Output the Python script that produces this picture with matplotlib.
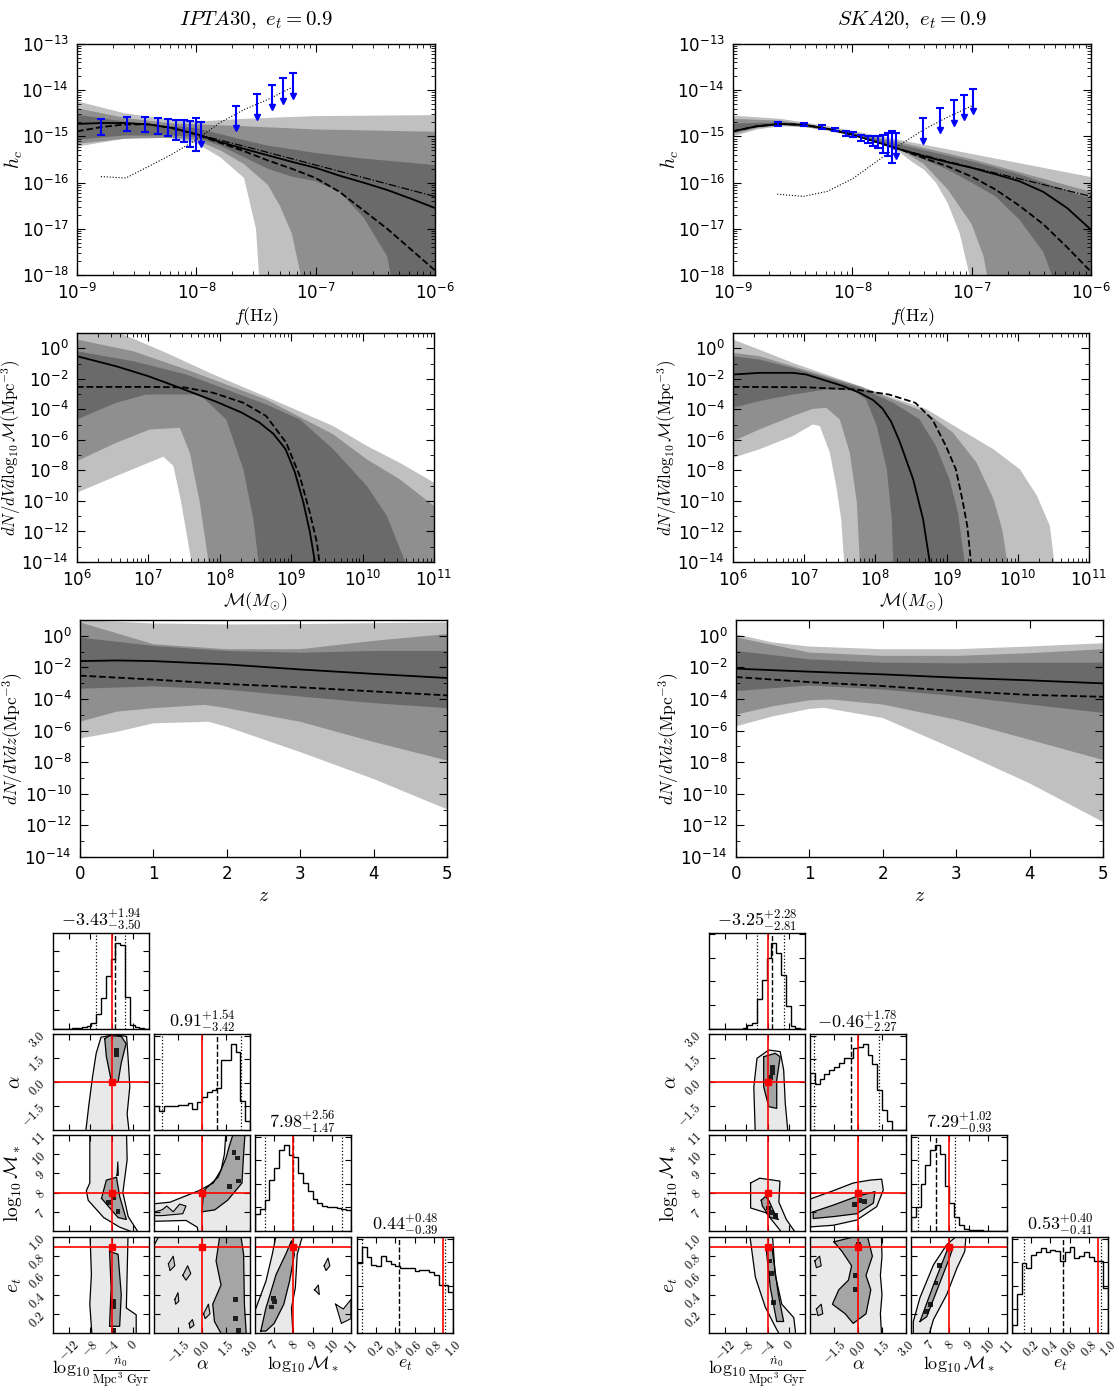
import numpy as np
import matplotlib
matplotlib.use('Agg')
import matplotlib.pyplot as plt
from matplotlib.patches import Rectangle
from matplotlib.ticker import FixedLocator, FuncFormatter, NullFormatter, LogLocator, MaxNLocator

plt.rcParams['mathtext.fontset'] = 'cm'
plt.rcParams['xtick.direction'] = 'in'
plt.rcParams['ytick.direction'] = 'in'
plt.rcParams['xtick.top'] = True
plt.rcParams['ytick.right'] = True
plt.rcParams['axes.linewidth'] = 1.0

LIGHT, MED, DARK = '#c0c0c0', '#8f8f8f', '#6a6a6a'

# ---------------- characteristic strain, log10 values ----------------
# IPTA30
ipta_hc_light_up = ([-9.0, -8.6, -8.2, -8.0, -7.6, -7.0, -6.0], [-14.24, -14.5, -14.64, -14.68, -14.62, -14.56, -14.54])
ipta_hc_light_lo = ([-9.0, -8.6, -8.3, -8.0, -7.8, -7.6, -7.5, -7.45, -6.0], [-15.22, -15.05, -15.0, -15.15, -15.45, -15.9, -17.0, -19.0, -19.0])
ipta_hc_med_up = ([-9.0, -8.6, -8.2, -8.0, -7.6, -7.0, -6.0], [-14.39, -14.6, -14.72, -14.74, -14.78, -14.85, -14.9])
ipta_hc_med_lo = ([-9.0, -8.6, -8.2, -8.0, -7.8, -7.6, -7.4, -7.3, -7.2, -7.1, -7.05, -6.0], [-15.16, -15.05, -15.03, -15.08, -15.3, -15.6, -16.05, -16.5, -17.1, -18.3, -19.0, -19.0])
ipta_hc_dark_up = ([-9.0, -8.6, -8.2, -8.0, -7.8, -7.6, -7.4, -7.0, -6.6, -6.0], [-14.53, -14.68, -14.78, -14.82, -14.95, -15.08, -15.2, -15.36, -15.48, -15.62])
ipta_hc_dark_lo = ([-9.0, -8.6, -8.2, -8.0, -7.8, -7.6, -7.4, -7.2, -7.0, -6.8, -6.6, -6.4, -6.3, -6.0], [-15.07, -14.98, -14.98, -15.02, -15.2, -15.45, -15.7, -15.87, -15.97, -16.2, -16.75, -17.6, -19.0, -19.0])
hc_curve_f = [-9.0, -8.8, -8.6, -8.4, -8.2, -8.0, -7.8, -7.6, -7.4, -7.2, -7.0, -6.8, -6.6, -6.4, -6.2, -6.0]
ipta_hc_solid = [-14.73, -14.71, -14.71, -14.74, -14.82, -14.95, -15.12, -15.27, -15.41, -15.55, -15.68, -15.85, -16.0, -16.16, -16.35, -16.55]
ipta_hc_dashed = [-14.89, -14.8, -14.74, -14.74, -14.82, -14.96, -15.14, -15.32, -15.52, -15.7, -15.9, -16.2, -16.6, -17.0, -17.45, -17.9]
ipta_hc_dashdot = ([-8.0, -7.5, -7.0, -6.5, -6.0], [-14.95, -15.28, -15.62, -15.96, -16.3])
ipta_sens = ([-8.8, -8.59, -8.4, -8.2, -8.0, -7.8, -7.6, -7.4, -7.19], [-15.87, -15.9, -15.65, -15.38, -15.07, -14.7, -14.42, -14.2, -13.93])
ipta_bar_f = [1.58e-9, 2.63e-9, 3.69e-9, 4.78e-9, 5.83e-9, 6.81e-9, 7.89e-9, 8.92e-9, 1.0e-8]
ipta_bar_lo = [-14.97, -14.89, -14.91, -14.94, -15.0, -15.07, -15.13, -15.22, -15.31]
ipta_bar_hi = [-14.63, -14.57, -14.57, -14.60, -14.62, -14.64, -14.64, -14.66, -14.60]
ipta_lim_f = [1.10e-8, 2.17e-8, 3.23e-8, 4.29e-8, 5.35e-8, 6.48e-8]
ipta_lim_top = [-14.68, -14.34, -14.08, -13.89, -13.74, -13.63]
ipta_lim_bot = [-15.16, -14.82, -14.57, -14.37, -14.23, -14.12]

# SKA20
ska_hc_light_up = ([-9.0, -8.6, -8.2, -8.0, -7.6, -7.0, -6.0], [-14.55, -14.62, -14.78, -14.88, -15.08, -15.38, -15.88])
ska_hc_light_lo = ([-9.0, -8.8, -8.6, -8.4, -8.2, -8.0, -7.8, -7.6, -7.5, -7.4, -7.3, -7.2, -7.1, -7.0, -6.95, -6.0], [-15.0, -14.85, -14.78, -14.8, -14.88, -15.0, -15.12, -15.35, -15.55, -15.72, -16.0, -16.45, -17.1, -18.2, -19.0, -19.0])
ska_hc_med_up = ([-9.0, -8.6, -8.2, -8.0, -7.6, -7.0, -6.0], [-14.62, -14.66, -14.81, -14.91, -15.13, -15.49, -16.2])
ska_hc_med_lo = ([-9.0, -8.8, -8.6, -8.4, -8.2, -8.0, -7.8, -7.6, -7.4, -7.2, -7.0, -6.9, -6.8, -6.0], [-14.95, -14.82, -14.76, -14.79, -14.86, -14.97, -15.09, -15.28, -15.6, -16.15, -16.9, -17.6, -19.0, -19.0])
ska_hc_dark_up = ([-9.0, -8.6, -8.2, -8.0, -7.6, -7.0, -6.6, -6.0], [-14.72, -14.7, -14.84, -14.94, -15.18, -15.54, -15.82, -16.35])
ska_hc_dark_lo = ([-9.0, -8.8, -8.6, -8.4, -8.2, -8.0, -7.8, -7.6, -7.4, -7.2, -7.0, -6.8, -6.6, -6.4, -6.3, -6.2, -6.0], [-14.9, -14.8, -14.75, -14.79, -14.87, -14.98, -15.12, -15.3, -15.5, -15.72, -16.0, -16.3, -16.8, -17.5, -18.2, -19.0, -19.0])
ska_hc_solid = [-14.89, -14.78, -14.73, -14.75, -14.84, -14.96, -15.12, -15.28, -15.43, -15.56, -15.68, -15.82, -15.97, -16.2, -16.55, -17.02]
ska_hc_dashed = [-14.89, -14.78, -14.73, -14.75, -14.84, -14.96, -15.12, -15.28, -15.47, -15.65, -15.87, -16.15, -16.5, -16.9, -17.4, -17.93]
ska_hc_dashdot = ([-7.6, -7.0, -6.5, -6.0], [-15.28, -15.67, -15.98, -16.3])
ska_sens = ([-8.63, -8.41, -8.21, -8.0, -7.8, -7.6, -7.4, -7.2, -7.0], [-16.25, -16.3, -16.19, -15.92, -15.55, -15.18, -14.85, -14.58, -14.34])
ska_bar_f = [2.37e-9, 3.96e-9, 5.56e-9, 7.1e-9, 8.77e-9, 1.02e-8, 1.19e-8, 1.34e-8, 1.49e-8, 1.64e-8, 1.8e-8, 1.99e-8, 2.14e-8]
ska_bar_lo = [-14.785, -14.785, -14.843, -14.893, -14.987, -15.016, -15.11, -15.146, -15.218, -15.254, -15.363, -15.435, -15.565]
ska_bar_hi = [-14.698, -14.712, -14.749, -14.821, -14.879, -14.915, -14.965, -15.001, -15.001, -15.001, -14.965, -14.929, -14.879]
ska_lim_f = [2.32e-8, 3.9e-8, 5.48e-8, 7.05e-8, 8.65e-8, 1.02e-7]
ska_lim_top = [-14.93, -14.6, -14.39, -14.22, -14.1, -13.98]
ska_lim_bot = [-15.42, -15.09, -14.86, -14.71, -14.57, -14.46]

# ---------------- mass function, log10 values ----------------
ipta_m_light_up = ([6.0, 6.6, 7.25, 7.91, 8.65, 9.59, 10.06, 10.52, 11.0], [1.2, 1.0, -0.3, -1.72, -3.18, -5.1, -6.4, -7.5, -8.8])
ipta_m_light_lo = ([6.0, 6.55, 7.21, 7.35, 7.46, 7.6, 7.63, 11.0], [-9.46, -8.37, -7.1, -7.71, -10.1, -13.92, -16.0, -16.0])
ipta_m_med_up = ([6.0, 6.79, 7.53, 8.65, 9.59, 10.06, 10.52, 11.0], [0.57, -0.2, -1.39, -3.36, -5.64, -7.28, -8.58, -10.33])
ipta_m_med_lo = ([6.0, 6.55, 7.02, 7.44, 7.58, 7.72, 7.84, 7.87, 11.0], [-7.39, -6.19, -5.32, -5.21, -6.84, -10.1, -13.92, -16.0, -16.0])
ipta_m_dark_up = ([6.0, 6.79, 7.53, 8.65, 9.12, 9.59, 10.06, 10.34, 10.59, 10.66], [-0.2, -0.85, -1.72, -3.68, -4.66, -6.62, -9.02, -10.98, -13.92, -16.0])
ipta_m_dark_lo = ([6.0, 6.55, 6.97, 7.72, 8.09, 8.33, 8.47, 8.54, 8.56], [-4.66, -3.57, -3.03, -3.03, -4.66, -7.93, -11.2, -13.92, -16.0])
ipta_m_solid = ([6.0, 6.55, 7.0, 7.44, 7.95, 8.3, 8.55, 8.75, 8.92, 9.05, 9.17, 9.26, 9.33, 9.35], [-0.52, -1.18, -1.83, -2.59, -3.5, -4.2, -4.85, -5.6, -6.6, -8.1, -10.1, -12.0, -13.92, -15.0])
ipta_m_dashed = ([6.0, 7.0, 7.5, 7.91, 8.33, 8.65, 8.93, 9.12, 9.26, 9.36, 9.42], [-2.53, -2.53, -2.56, -2.92, -3.57, -4.44, -6.19, -8.37, -10.76, -12.72, -15.0])

ska_m_light_up = ([6.0, 6.37, 6.84, 7.31, 7.78, 8.25, 8.72, 9.19, 9.66, 10.03, 10.27, 10.45, 10.51, 10.56], [0.57, -0.09, -0.96, -1.72, -2.48, -3.25, -4.0, -5.32, -6.62, -7.93, -9.67, -11.63, -13.92, -16.0])
ska_m_light_lo = ([6.0, 6.37, 6.84, 7.12, 7.22, 7.36, 7.45, 7.52, 7.56, 7.59], [-7.17, -6.62, -5.75, -4.99, -5.1, -6.84, -9.02, -11.2, -13.92, -16.0])
ska_m_med_up = ([6.0, 6.37, 6.84, 7.31, 7.78, 8.25, 8.72, 9.09, 9.42, 9.66, 9.78, 9.85, 9.87], [-0.3, -0.52, -1.18, -1.83, -2.48, -3.36, -4.23, -5.53, -7.49, -9.89, -11.85, -13.92, -16.0])
ska_m_med_lo = ([6.0, 6.37, 6.84, 7.12, 7.31, 7.5, 7.64, 7.74, 7.78, 7.8], [-6.08, -5.32, -4.44, -3.97, -3.9, -4.66, -6.84, -10.11, -13.92, -16.0])
ska_m_dark_up = ([6.0, 6.37, 6.84, 7.31, 7.78, 8.25, 8.62, 8.85, 9.04, 9.16, 9.25, 9.27], [-0.52, -0.74, -1.29, -1.94, -2.59, -3.57, -4.66, -6.4, -8.58, -10.76, -13.92, -16.0])
ska_m_dark_lo = ([6.0, 6.37, 6.84, 7.31, 7.69, 7.87, 8.02, 8.16, 8.23, 8.25, 8.27], [-3.9, -3.46, -3.03, -2.7, -2.74, -3.36, -5.1, -7.93, -11.2, -13.92, -16.0])
ska_m_solid = ([6.0, 6.37, 6.84, 7.03, 7.55, 7.78, 7.97, 8.1, 8.22, 8.34, 8.53, 8.67, 8.76, 8.78], [-1.72, -1.61, -1.61, -1.72, -2.48, -2.92, -3.4, -3.95, -4.8, -6.1, -8.58, -11.2, -13.92, -15.0])
ska_m_dashed = ([6.0, 7.0, 7.72, 8.19, 8.56, 8.8, 8.99, 9.13, 9.22, 9.29, 9.34, 9.36], [-2.53, -2.55, -2.7, -3.03, -3.57, -4.66, -6.4, -7.93, -9.89, -11.63, -13.92, -15.0])

# ---------------- redshift distribution, log10 values ----------------
ipta_z_light_up = ([0, 1, 2, 3, 4, 5], [1.0, 0.78, 0.72, 0.74, 0.8, 0.85])
ipta_z_light_lo = ([0, 0.5, 1, 1.75, 2, 3, 4, 5], [-6.5, -6.08, -5.54, -5.44, -5.76, -7.36, -9.06, -10.98])
ipta_z_med_up = ([0, 1, 2, 3, 4, 5], [0.85, -0.53, -0.85, -0.85, -0.32, 0.11])
ipta_z_med_lo = ([0, 0.5, 1, 1.7, 2, 3, 4, 5], [-5.44, -4.8, -4.58, -4.37, -4.58, -5.44, -6.72, -7.89])
ipta_z_dark_up = ([0, 1, 2, 3, 4, 5], [-0.11, -0.64, -0.96, -1.07, -0.96, -0.96])
ipta_z_dark_lo = ([0, 1, 2, 3, 4, 5], [-3.35, -3.2, -3.41, -3.84, -4.26, -4.58])
ipta_z_solid = ([0, 0.5, 1, 2, 3, 4, 5], [-1.6, -1.56, -1.6, -1.81, -2.13, -2.41, -2.67])
ipta_z_dashed = ([0, 1, 2, 3, 4, 5], [-2.52, -2.77, -3.05, -3.26, -3.52, -3.77])

ska_z_light_up = ([0, 0.5, 1, 2, 3, 4, 5], [0.1, -0.42, -0.68, -0.85, -0.85, -0.68, -0.47])
ska_z_light_lo = ([0, 0.5, 1, 1.2, 2, 3, 4, 5], [-5.73, -5.1, -4.63, -4.56, -5.2, -7.22, -9.34, -11.78])
ska_z_med_up = ([0, 1, 2, 3, 4, 5], [-0.1, -1.06, -1.27, -1.27, -1.1, -0.85])
ska_z_med_lo = ([0, 0.5, 1, 1.3, 2, 3, 4, 5], [-4.99, -4.46, -4.08, -4.03, -4.35, -5.31, -6.58, -7.86])
ska_z_dark_up = ([0, 1, 2, 3, 4, 5], [-0.96, -1.49, -1.7, -1.74, -1.7, -1.7])
ska_z_dark_lo = ([0, 1, 2, 3, 4, 5], [-3.5, -3.14, -3.4, -3.82, -4.35, -4.88])
ska_z_solid = ([0, 1, 2, 3, 4, 5], [-2.08, -2.27, -2.44, -2.65, -2.82, -3.01])
ska_z_dashed = ([0, 1, 2, 3, 4, 5], [-2.61, -2.93, -3.18, -3.5, -3.74, -3.86])

# ---------------- corner plots ----------------
par_labels = [r'$\log_{10}\frac{\dot{n}_0}{\rm Mpc^3\ Gyr}$', r'$\alpha$', r'$\log_{10}\mathcal{M}_*$', r'$e_t$']
par_ranges = [(-15, 3), (-3, 3), (6, 11), (0, 1)]
par_ticks = [[-12, -8, -4, 0], [-1.5, 0.0, 1.5, 3.0], [7, 8, 9, 10, 11], [0.2, 0.4, 0.6, 0.8, 1.0]]
par_ticklabels = [['$-12$', '$-8$', '$-4$', '$0$'], ['$-1.5$', '$0.0$', '$1.5$', '$3.0$'],
                  ['$7$', '$8$', '$9$', '$10$', '$11$'], ['$0.2$', '$0.4$', '$0.6$', '$0.8$', '$1.0$']]
truths = [-4, 0, 8, 0.9]
cell = [0.9, 0.3, 0.25, 0.05]

ipta_hists = [
    [0, 0, 0.002, 0.004, 0.006, 0.012, 0.02, 0.035, 0.06, 0.15, 0.32, 0.54, 0.72, 0.88, 0.86, 0.33, 0.04, 0.02, 0.006, 0],
    [0.25, 0.2, 0.25, 0.26, 0.26, 0.27, 0.27, 0.29, 0.22, 0.3, 0.35, 0.40, 0.42, 0.45, 0.74, 0.74, 0.91, 0.83, 0.31, 0.10],
    [0.18, 0.23, 0.33, 0.54, 0.67, 0.86, 0.91, 0.81, 0.79, 0.62, 0.51, 0.42, 0.34, 0.30, 0.27, 0.26, 0.25, 0.24, 0.23, 0.22],
    [0.74, 0.91, 0.81, 0.72, 0.71, 0.82, 0.76, 0.73, 0.71, 0.69, 0.69, 0.69, 0.66, 0.67, 0.67, 0.65, 0.62, 0.51, 0.51, 0.44],
]
ipta_med = [-3.43, 0.91, 7.98, 0.44]
ipta_plus = [1.94, 1.54, 2.56, 0.48]
ipta_minus = [3.50, 3.42, 1.47, 0.39]

ska_hists = [
    [0, 0, 0, 0, 0, 0, 0.005, 0.01, 0.04, 0.06, 0.31, 0.51, 0.75, 0.90, 0.80, 0.57, 0.24, 0.035, 0.01, 0],
    [0.61, 0.49, 0.54, 0.59, 0.64, 0.67, 0.71, 0.76, 0.76, 0.87, 0.88, 0.91, 0.80, 0.70, 0.42, 0.21, 0.10, 0.0, 0.0, 0.0],
    [0.15, 0.26, 0.5, 0.7, 0.86, 0.91, 0.82, 0.48, 0.3, 0.15, 0.06, 0.025, 0.014, 0.01, 0.007, 0.005, 0.004, 0.003, 0.002, 0.001],
    [0.09, 0.41, 0.74, 0.69, 0.83, 0.86, 0.9, 0.86, 0.88, 0.87, 0.76, 0.86, 0.91, 0.8, 0.82, 0.86, 0.81, 0.76, 0.76, 0.48],
]
ska_med = [-3.25, -0.46, 7.29, 0.53]
ska_plus = [2.28, 1.78, 1.02, 0.40]
ska_minus = [2.81, 2.27, 0.93, 0.41]

# 2D panels: outer (light) contour, inner (dark) contour, darkest cells, small loops
ipta_2d = {
    (1, 0): dict(outer=[(-9.0, -3.5), (-8.3, -1.5), (-7.6, 0.3), (-6.9, 1.8), (-6.0, 2.8), (-3.5, 2.95), (-1.2, 2.85), (-0.9, 1.4), (-0.6, -0.3), (-1.1, -2.0), (-0.6, -3.5)],
                 inner=[(-5.3, 2.7), (-5.0, 1.6), (-4.1, 0.1), (-2.8, 0.0), (-2.2, 1.2), (-1.3, 2.4), (-2.2, 2.85), (-4.4, 2.9)],
                 dark=[(-3.15, 2.0), (-3.15, 1.7)], loops=[]),
    (2, 0): dict(outer=[(-8.1, 11.5), (-8.1, 8.5), (-8.75, 8.1), (-8.4, 7.6), (-5.5, 6.7), (-2.5, 6.2), (1.3, 5.8), (-0.9, 6.75), (-1.9, 8.0), (-1.1, 9.7), (-1.25, 11.5)],
                 inner=[(-5.9, 7.7), (-5.0, 8.65), (-3.1, 8.8), (-2.5, 7.8), (-1.25, 6.6), (-2.8, 6.7)],
                 dark=[(-4.6, 7.5), (-3.7, 7.75), (-2.8, 7.0)],
                 loops=[[(-3.0, 8.9), (-2.85, 9.6), (-2.75, 8.9)]]),
    (3, 0): dict(outer=[(-8.1, 1.1), (-7.8, 0.61), (-8.1, 0.3), (-7.6, -0.1), (0.6, -0.1), (0.6, 0.19), (-1.25, 0.26), (-1.1, 0.61), (-0.9, 1.1)],
                 inner=[(-4.4, 0.85), (-4.1, 0.47), (-4.4, 0.07), (-2.5, 0.07), (-2.2, 0.4), (-2.8, 0.82)],
                 dark=[(-3.6, 0.33), (-3.6, 0.28), (-3.6, 0.03)], loops=[]),
    (2, 1): dict(outer=[(-3.2, 7.4), (-2.0, 7.5), (-0.2, 8.1), (0.7, 8.5), (1.2, 9.2), (1.4, 10.0), (1.5, 11.2), (3.2, 11.2), (3.2, 5.8), (-0.2, 5.8), (-0.3, 6.2), (-1.0, 6.55), (-3.2, 6.5)],
                 inner=[(0.0, 7.0), (0.1, 8.1), (1.0, 8.8), (1.5, 9.8), (1.7, 10.4), (2.0, 11.2), (2.7, 11.2), (2.6, 10.0), (2.5, 8.5), (1.6, 7.6), (0.8, 7.1)],
                 dark=[(2.0, 10.1), (2.2, 9.8), (2.3, 8.6), (1.7, 8.3)],
                 loops=[[(-3.2, 6.95), (-2.5, 7.1), (-2.2, 7.3), (-1.8, 7.0), (-1.4, 7.4), (-1.0, 7.3), (-1.2, 6.9), (-2.5, 6.8), (-3.2, 6.8)]]),
    (3, 1): dict(outer=[(-3.2, -0.1), (3.2, -0.1), (3.2, 1.1), (-2.4, 1.1), (-3.2, 0.85)],
                 inner=[(1.19, 1.1), (0.88, 0.75), (1.19, 0.5), (0.67, 0.3), (0.78, 0.12), (1.5, -0.1), (2.8, -0.1), (2.65, 0.3), (2.6, 0.82), (2.35, 1.1)],
                 dark=[(2.1, 0.35), (2.1, 0.15), (2.3, 0.03)],
                 loops=[[(-2.1, 0.72), (-1.8, 0.8), (-1.7, 0.7), (-2.0, 0.65)], [(-1.7, 0.35), (-1.5, 0.42), (-1.45, 0.33), (-1.65, 0.3)],
                        [(-0.8, 0.1), (-0.6, 0.14), (-0.5, 0.08), (-0.75, 0.05)], [(-1.2, 0.6), (-0.9, 0.7), (-0.7, 0.62), (-1.0, 0.55)],
                        [(0.1, 0.2), (0.4, 0.3), (0.5, 0.2), (0.2, 0.15)]]),
    (3, 2): dict(outer=[(5.9, 0.2), (6.05, 0.26), (6.57, 0.54), (6.9, 0.82), (7.18, 1.1), (8.6, 1.1), (8.2, 0.82), (8.1, 0.47), (7.9, 0.26), (8.0, -0.1), (5.9, -0.1)],
                 inner=[(6.3, 0.02), (6.57, 0.26), (7.1, 0.61), (7.6, 0.82), (7.9, 0.96), (8.05, 0.82), (7.8, 0.54), (7.5, 0.3), (7.0, 0.1), (6.57, 0.02)],
                 dark=[(7.0, 0.33), (6.85, 0.27), (6.95, 0.36)],
                 loops=[[(9.6, 0.7), (9.8, 0.78), (9.9, 0.7), (9.7, 0.65)], [(10.2, 0.3), (10.6, 0.25), (11.0, 0.35), (11.0, 0.15), (10.5, 0.1)],
                        [(9.1, 0.45), (9.3, 0.5), (9.35, 0.4)]]),
}
ska_2d = {
    (1, 0): dict(outer=[(-6.3, -3.5), (-6.6, -0.3), (-6.0, 1.48), (-3.8, 2.0), (-1.65, 1.9), (-1.0, 0.75), (-0.7, -1.33), (-0.1, -3.5)],
                 inner=[(-4.75, 1.58), (-4.75, -0.3), (-3.8, -1.54), (-2.3, -1.65), (-2.3, 0.13), (-1.65, 1.58), (-2.6, 1.79)],
                 dark=[(-3.1, 0.9), (-3.1, 0.6), (-3.5, 0.3)], loops=[]),
    (2, 0): dict(outer=[(-7.2, 8.5), (-5.5, 8.75), (-1.7, 8.6), (-1.9, 7.5), (-0.5, 6.6), (1.5, 5.8), (-1.0, 5.8), (-4.3, 6.95), (-7.2, 7.2)],
                 inner=[(-5.2, 7.6), (-4.4, 7.8), (-3.8, 7.6), (-2.5, 6.8), (-2.0, 6.6), (-3.5, 6.7), (-5.0, 7.3)],
                 dark=[(-3.3, 6.95), (-3.9, 7.2), (-2.6, 6.8)], loops=[]),
    (3, 0): dict(outer=[(-7.55, 1.1), (-6.3, 0.58), (-4.45, 0.27), (-2.9, 0.1), (-1.0, -0.1), (1.2, -0.1), (1.2, 0.02), (0.9, 0.16), (-1.35, 0.3), (-2.6, 0.61), (-3.2, 1.1)],
                 inner=[(-4.3, 0.89), (-3.5, 0.47), (-2.3, 0.12), (-1.0, 0.12), (-2.0, 0.4), (-3.2, 0.89)],
                 dark=[(-3.3, 0.62), (-2.9, 0.32), (-3.7, 0.75)], loops=[]),
    (2, 1): dict(outer=[(-3.2, 7.6), (-1.54, 8.1), (-0.3, 8.5), (0.75, 8.65), (1.48, 8.7), (1.58, 8.13), (1.17, 7.27), (-0.08, 6.57), (-1.54, 6.3), (-3.2, 6.2)],
                 inner=[(-2.8, 7.0), (-1.54, 7.35), (-0.08, 7.8), (1.06, 8.05), (0.96, 7.45), (-0.08, 6.9), (-1.54, 6.75), (-2.8, 6.65)],
                 dark=[(0.1, 7.6), (0.4, 7.55), (-0.2, 7.4)], loops=[]),
    (3, 1): dict(outer=[(-3.2, -0.1), (-3.2, 1.1), (1.45, 1.1), (1.5, 0.8), (1.4, 0.6), (1.5, 0.4), (1.4, 0.2), (1.5, -0.1)],
                 inner=[(-1.5, 0.95), (-1.0, 0.85), (-0.4, 0.7), (-0.6, 0.55), (-1.2, 0.45), (-1.6, 0.3), (-0.8, 0.2), (-0.3, 0.1), (0.5, 0.2), (0.8, 0.45), (0.5, 0.6), (0.9, 0.8), (0.6, 1.0), (-0.3, 1.0)],
                 dark=[(-0.15, 0.45), (-0.15, 0.6), (0.05, 0.92)],
                 loops=[[(-2.7, 0.75), (-2.4, 0.8), (-2.3, 0.7), (-2.6, 0.68)], [(-2.6, 0.25), (-2.3, 0.3), (-2.2, 0.2), (-2.5, 0.18)]]),
    (3, 2): dict(outer=[(6.12, -0.1), (6.12, 0.12), (6.47, 0.37), (7.17, 0.71), (7.86, 0.92), (8.9, 1.1), (8.8, 0.85), (8.4, 0.68), (7.86, 0.4), (7.17, 0.14), (6.82, -0.1)],
                 inner=[(6.47, 0.12), (7.17, 0.5), (7.86, 0.85), (8.2, 0.9), (8.0, 0.78), (7.4, 0.47), (6.82, 0.17)],
                 dark=[(7.0, 0.3), (7.3, 0.52), (7.5, 0.7), (6.8, 0.22)], loops=[]),
}

W, H = 1117, 1390
fig = plt.figure(figsize=(W / 100, H / 100), dpi=100)


def rect(x0, y0, x1, y1):
    return [x0 / W, 1 - y1 / H, (x1 - x0) / W, (y1 - y0) / H]


def fill_band(ax, up, lo, color, logx=True):
    xs = np.concatenate([up[0], lo[0][::-1]])
    ys = np.concatenate([up[1], lo[1][::-1]])
    if logx:
        xs = 10.0 ** xs
    ax.fill(xs, 10.0 ** ys, color=color, lw=0)


def logfmt(v, pos):
    return r'$10^{%d}$' % int(round(np.log10(v)))


def sans_ticks(ax):
    # tick numbers in the sans math font, axis labels stay in computer modern
    for lab in ax.get_xticklabels() + ax.get_yticklabels():
        lab.set_math_fontfamily('dejavusans')


def style_log(ax, yexp, xexp=None):
    ax.set_yscale('log')
    ax.yaxis.set_major_locator(FixedLocator([10.0 ** k for k in yexp]))
    ax.yaxis.set_major_formatter(FuncFormatter(logfmt))
    if xexp is not None:
        ax.set_xscale('log')
        ax.xaxis.set_major_locator(FixedLocator([10.0 ** k for k in xexp]))
        ax.xaxis.set_major_formatter(FuncFormatter(logfmt))
        ax.xaxis.set_minor_locator(LogLocator(subs=np.arange(2, 10), numticks=30))
        ax.xaxis.set_minor_formatter(NullFormatter())
    ax.tick_params(which='major', length=6, labelsize=12, pad=6)
    ax.tick_params(which='minor', length=3)


def hc_panel(box, title, bands, solid, dashed, dashdot, sens, bars, lims):
    ax = fig.add_axes(rect(*box))
    for up, lo, c in bands:
        fill_band(ax, up, lo, c)
    f = 10.0 ** np.array(hc_curve_f)
    ax.plot(10.0 ** np.array(sens[0]), 10.0 ** np.array(sens[1]), color='k', ls=':', lw=0.8)
    ax.plot(10.0 ** np.array(dashdot[0]), 10.0 ** np.array(dashdot[1]), color='k', ls='-.', lw=0.9)
    ax.plot(f, 10.0 ** np.array(dashed), color='k', ls='--', lw=1.3)
    ax.plot(f, 10.0 ** np.array(solid), color='k', lw=1.3)
    bf, blo, bhi = bars
    lo = 10.0 ** np.array(blo)
    hi = 10.0 ** np.array(bhi)
    mid = np.sqrt(lo * hi)
    ax.errorbar(bf, mid, yerr=[mid - lo, hi - mid], fmt='none', ecolor='b', elinewidth=1.5, capsize=3, capthick=1.5)
    lf, ltop, lbot = lims
    ax.vlines(lf, 10.0 ** np.array(lbot), 10.0 ** np.array(ltop), colors='b', lw=1.5)
    ax.plot(lf, 10.0 ** np.array(ltop), ls='none', marker='_', color='b', ms=6, mew=1.5)
    ax.plot(lf, 10.0 ** np.array(lbot), ls='none', marker='v', color='b', ms=5)
    ax.set_xscale('log')
    ax.set_xlim(1e-9, 1e-6)
    ax.set_ylim(1e-18, 1e-13)
    style_log(ax, range(-18, -12), range(-9, -5))
    ax.yaxis.set_minor_locator(LogLocator(subs=np.arange(2, 10), numticks=30))
    ax.yaxis.set_minor_formatter(NullFormatter())
    ax.set_ylabel(r'$h_c$', fontsize=14)
    ax.yaxis.set_label_coords(-0.145, 0.5)
    ax.set_xlabel(r'$f(\mathrm{Hz})$', fontsize=13, labelpad=1)
    ax.set_title(title, fontsize=15, pad=14)
    sans_ticks(ax)


def mass_panel(box, bands, solid, dashed):
    ax = fig.add_axes(rect(*box))
    for up, lo, c in bands:
        fill_band(ax, up, lo, c)
    ax.plot(10.0 ** np.array(dashed[0]), 10.0 ** np.array(dashed[1]), color='k', ls='--', lw=1.3)
    ax.plot(10.0 ** np.array(solid[0]), 10.0 ** np.array(solid[1]), color='k', lw=1.3)
    ax.set_xscale('log')
    ax.set_xlim(1e6, 1e11)
    ax.set_ylim(1e-14, 1e1)
    style_log(ax, range(-14, 1, 2), range(6, 12))
    ax.yaxis.set_minor_locator(FixedLocator([10.0 ** k for k in range(-13, 1, 2)]))
    ax.yaxis.set_minor_formatter(NullFormatter())
    ax.set_ylabel(r'$dN/dVd\log_{10}\mathcal{M}(\mathrm{Mpc}^{-3})$', fontsize=12)
    ax.yaxis.set_label_coords(-0.152, 0.5)
    ax.set_xlabel(r'$\mathcal{M}(M_{\odot})$', fontsize=13, labelpad=0)
    sans_ticks(ax)


def z_panel(box, bands, solid, dashed):
    ax = fig.add_axes(rect(*box))
    for up, lo, c in bands:
        fill_band(ax, up, lo, c, logx=False)
    ax.plot(dashed[0], 10.0 ** np.array(dashed[1]), color='k', ls='--', lw=1.3)
    ax.plot(solid[0], 10.0 ** np.array(solid[1]), color='k', lw=1.3)
    ax.set_xlim(0, 5)
    ax.set_ylim(1e-14, 1e1)
    style_log(ax, range(-14, 1, 2))
    ax.yaxis.set_minor_locator(FixedLocator([10.0 ** k for k in range(-13, 1, 2)]))
    ax.yaxis.set_minor_formatter(NullFormatter())
    ax.set_xticks([0, 1, 2, 3, 4, 5])
    ax.xaxis.set_major_formatter(FuncFormatter(lambda v, p: '%d' % v))
    ax.set_ylabel(r'$dN/dVdz(\mathrm{Mpc}^{-3})$', fontsize=12.5)
    ax.yaxis.set_label_coords(-0.148, 0.5)
    ax.set_xlabel(r'$z$', fontsize=14, labelpad=2)
    sans_ticks(ax)


def poly(ax, pts, fc=None, lw=0.9):
    p = np.array(pts + [pts[0]])
    if fc is not None:
        ax.fill(p[:, 0], p[:, 1], color=fc, lw=0)
    ax.plot(p[:, 0], p[:, 1], color='k', lw=lw)


def corner(xs, ys, hists, med, plus, minus, pan):
    for i in range(4):
        for j in range(i + 1):
            ax = fig.add_axes(rect(xs[j], ys[i], xs[j] + 96, ys[i] + 96))
            ax.set_xlim(*par_ranges[j])
            if i == j:
                edges = np.linspace(par_ranges[i][0], par_ranges[i][1], 21)
                h = np.array(hists[i])
                ax.stairs(h, edges, color='k', lw=1.0)
                ax.set_ylim(0, 1.12 * h.max())
                ax.axvline(med[i], color='k', ls='--', lw=1.0)
                ax.axvline(med[i] - minus[i], color='k', ls=':', lw=0.9)
                ax.axvline(med[i] + plus[i], color='k', ls=':', lw=0.9)
                ax.axvline(truths[i], color='r', lw=1.2)
                ax.yaxis.set_major_locator(MaxNLocator(5))
                ax.yaxis.set_major_formatter(NullFormatter())
                ax.set_title(r'$%.2f^{+%.2f}_{-%.2f}$' % (med[i], plus[i], minus[i]), fontsize=13, pad=3)
            else:
                ax.set_ylim(*par_ranges[i])
                d = pan[(i, j)]
                poly(ax, d['outer'], fc='#e9e9e9')
                poly(ax, d['inner'], fc='#a5a5a5')
                for lp in d['loops']:
                    poly(ax, lp, fc='#c8c8c8', lw=0.8)
                for cx, cy in d['dark']:
                    ax.add_patch(Rectangle((cx - cell[j] / 2, cy - cell[i] / 2), cell[j], cell[i], color='#1e1e1e', lw=0))
                ax.axvline(truths[j], color='r', lw=1.2)
                ax.axhline(truths[i], color='r', lw=1.2)
                ax.plot(truths[j], truths[i], 's', color='r', ms=5)
                ax.set_yticks(par_ticks[i])
                if j == 0:
                    ax.set_yticklabels(par_ticklabels[i], rotation=45, fontsize=9)
                    ax.set_ylabel(par_labels[i], fontsize=14)
                    ax.yaxis.set_label_coords(-0.3, 0.5)
                else:
                    ax.set_yticklabels([])
            ax.set_xticks(par_ticks[j])
            if i == 3:
                ax.set_xticklabels(par_ticklabels[j], rotation=45, fontsize=9)
                ax.set_xlabel(par_labels[j], fontsize=13)
                ax.xaxis.set_label_coords(0.5, -0.23)
            else:
                ax.set_xticklabels([])
            ax.tick_params(length=4)


hc_panel((77, 44, 435, 275), r'$IPTA30,\ e_t = 0.9$',
         [(ipta_hc_light_up, ipta_hc_light_lo, LIGHT), (ipta_hc_med_up, ipta_hc_med_lo, MED), (ipta_hc_dark_up, ipta_hc_dark_lo, DARK)],
         ipta_hc_solid, ipta_hc_dashed, ipta_hc_dashdot, ipta_sens,
         (ipta_bar_f, ipta_bar_lo, ipta_bar_hi), (ipta_lim_f, ipta_lim_top, ipta_lim_bot))
hc_panel((733, 44, 1091, 275), r'$SKA20,\ e_t = 0.9$',
         [(ska_hc_light_up, ska_hc_light_lo, LIGHT), (ska_hc_med_up, ska_hc_med_lo, MED), (ska_hc_dark_up, ska_hc_dark_lo, DARK)],
         ska_hc_solid, ska_hc_dashed, ska_hc_dashdot, ska_sens,
         (ska_bar_f, ska_bar_lo, ska_bar_hi), (ska_lim_f, ska_lim_top, ska_lim_bot))

mass_panel((77, 333, 434, 562),
           [(ipta_m_light_up, ipta_m_light_lo, LIGHT), (ipta_m_med_up, ipta_m_med_lo, MED), (ipta_m_dark_up, ipta_m_dark_lo, DARK)],
           ipta_m_solid, ipta_m_dashed)
mass_panel((733, 333, 1089, 562),
           [(ska_m_light_up, ska_m_light_lo, LIGHT), (ska_m_med_up, ska_m_med_lo, MED), (ska_m_dark_up, ska_m_dark_lo, DARK)],
           ska_m_solid, ska_m_dashed)

z_panel((80, 620, 447, 857),
        [(ipta_z_light_up, ipta_z_light_lo, LIGHT), (ipta_z_med_up, ipta_z_med_lo, MED), (ipta_z_dark_up, ipta_z_dark_lo, DARK)],
        ipta_z_solid, ipta_z_dashed)
z_panel((736, 620, 1103, 857),
        [(ska_z_light_up, ska_z_light_lo, LIGHT), (ska_z_med_up, ska_z_med_lo, MED), (ska_z_dark_up, ska_z_dark_lo, DARK)],
        ska_z_solid, ska_z_dashed)

corner([53, 154, 255, 357], [933, 1034, 1135, 1237], ipta_hists, ipta_med, ipta_plus, ipta_minus, ipta_2d)
corner([709, 810, 911, 1012], [933, 1034, 1135, 1237], ska_hists, ska_med, ska_plus, ska_minus, ska_2d)

fig.savefig('out.png', dpi=100)
